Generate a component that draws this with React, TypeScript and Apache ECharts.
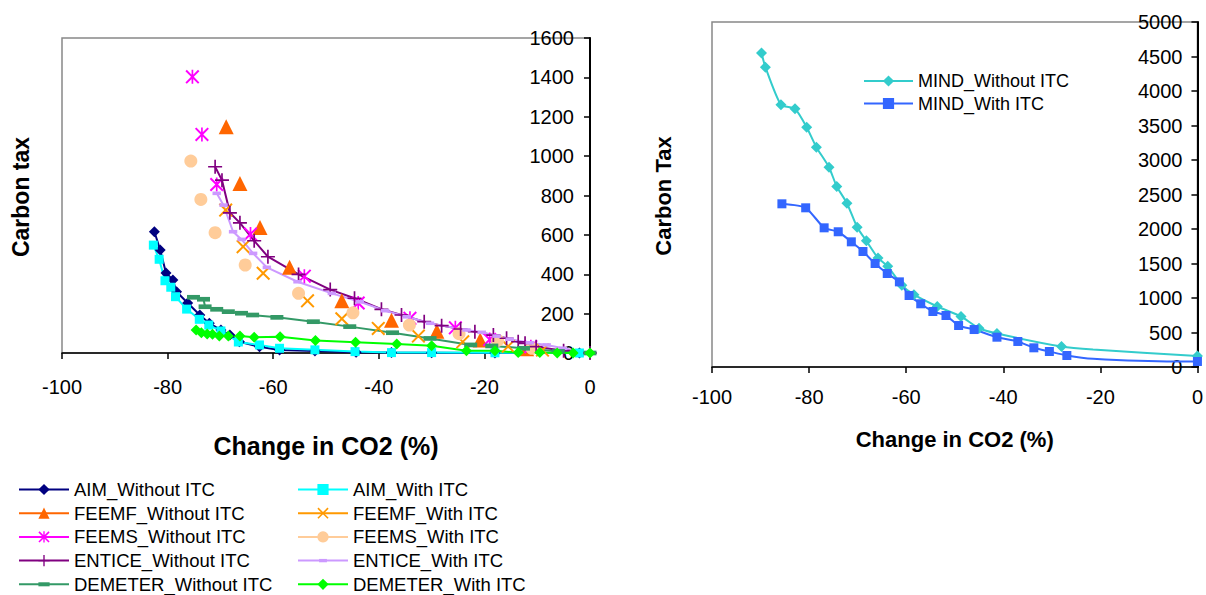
import React, { useEffect, useRef } from "react";
import * as echarts from "echarts";

// ---------- Data (x = change in CO2 %, y = carbon tax) ----------
const AIM_WITHOUT = [[-82.5,616],[-81.4,523],[-80.3,406],[-79.0,371],[-78.3,311],[-76.2,254],[-73.9,193],[-72.1,151],[-69.9,117],[-68.2,91],[-66.4,57],[-62.6,32],[-58.8,15],[-52.1,10],[-44.3,4],[-37.6,2],[-30,1],[-18,0],[-2,0]];
const AIM_WITH = [[-82.7,548],[-81.6,476],[-80.5,367],[-79.4,334],[-78.5,286],[-76.4,223],[-74.0,171],[-72.2,142],[-69.9,112],[-66.6,56],[-62.6,41],[-58.8,24],[-52.1,16],[-44.5,7],[-37.6,2],[-30,2],[-18,1],[-2,0]];
const FEEMF_WITHOUT = [[-68.9,1149],[-66.3,861],[-62.5,638],[-56.9,435],[-47.0,265],[-37.6,166],[-29.0,111],[-20.8,66],[-12,22]];
const FEEMF_WITH = [[-69.0,726],[-65.7,540],[-61.9,405],[-53.5,265],[-47.0,174],[-40.1,125],[-32.5,86],[-24.1,57],[-15.5,34],[-9,15]];
const FEEMS_WITHOUT = [[-75.3,1403],[-73.5,1110],[-70.7,856],[-64.3,604],[-54.1,390],[-43.9,254],[-34.1,176],[-25.5,128],[-19,68],[-11.2,32]];
const FEEMS_WITH = [[-75.6,975],[-73.7,780],[-71.0,611],[-65.3,447],[-55.2,303],[-44.9,204],[-34.2,142],[-24.8,98],[-17.5,64],[-11,24]];
const ENTICE_WITHOUT = [[-71.0,946],[-69.7,878],[-68.2,712],[-66.3,661],[-63.6,570],[-61.0,489],[-55.2,399],[-49.2,322],[-44.6,278],[-39.5,222],[-35.7,193],[-31.4,159],[-28.1,139],[-24.5,122],[-21.8,108],[-18.3,91],[-15.8,75],[-13.6,57],[-12.3,49],[-10.2,32],[-5,12],[0,0]];
const ENTICE_WITH = [[-70.7,811],[-69.4,751],[-67.6,616],[-66.0,577],[-63.8,506],[-61.2,435],[-55.4,362],[-48.9,303],[-43.6,260],[-38.8,215],[-34.7,184],[-30.3,151],[-23.4,117],[-20.5,105],[-17.7,86],[-15.2,70],[-11.4,52],[-8.2,41],[-5.1,24],[0,0]];
const DEMETER_WITHOUT = [[-75.1,283],[-73.2,273],[-72.9,235],[-70.7,222],[-68.5,210],[-66.0,202],[-63.9,193],[-59.3,181],[-52.4,159],[-45.5,134],[-37.4,103],[-30.3,74],[-22.6,41],[-18.6,36],[-12.6,24],[-6,8],[0,0]];
const DEMETER_WITH = [[-74.6,117],[-73.6,103],[-72.5,96],[-71.5,95],[-70.2,86],[-68.5,86],[-66.3,86],[-63.6,80],[-58.7,83],[-52.0,64],[-44.4,55],[-36.6,46],[-30.0,37],[-23.4,12],[-18,12],[-13.6,2],[-9.5,2],[-6.2,0],[-3.2,0],[0,0]];

const MIND_WITHOUT = [[-89.8,4550],[-89.0,4345],[-85.8,3800],[-82.9,3742],[-80.5,3475],[-78.5,3186],[-75.9,2896],[-74.3,2616],[-72.2,2374],[-70.1,2026],[-68.2,1828],[-65.8,1580],[-63.8,1459],[-60.9,1186],[-58.4,1048],[-53.6,877],[-48.7,732],[-45.0,562],[-41.3,485],[-28.0,297],[-21.5,253],[0,160]];
const MIND_WITHOUT_HIDDEN = [-21.5];
const MIND_WITH = [[-85.6,2365],[-80.7,2307],[-76.9,2017],[-74.0,1960],[-71.3,1814],[-68.9,1674],[-66.4,1500],[-63.9,1355],[-61.4,1234],[-59.4,1036],[-57.0,916],[-54.5,804],[-51.8,746],[-49.2,601],[-46.0,543],[-41.3,432],[-37.0,370],[-33.7,278],[-30.5,225],[-26.9,167],[-21.5,119],[-4.5,80],[0,80]];
const MIND_WITH_HIDDEN = [-21.5, -4.5];

const LEFT_Y_MAX = 1600;
const LEFT_Y_STEP = 200;
const RIGHT_Y_MAX = 5000;
const RIGHT_Y_STEP = 500;
const X_MIN = -100;
const X_MAX = 0;
const X_STEP = 20;

const FONT = "'Liberation Sans', Arial, sans-serif";

const SYM_X = "path://M0,1 L1,0 L5,4 L9,0 L10,1 L6,5 L10,9 L9,10 L5,6 L1,10 L0,9 L4,5 Z";
const SYM_STAR = "path://M0,1 L1,0 L5,4 L9,0 L10,1 L6,5 L10,9 L9,10 L5,6 L1,10 L0,9 L4,5 Z M4.4,0 L5.6,0 L5.6,10 L4.4,10 Z";
const SYM_PLUS = "path://M4.4,0 L5.6,0 L5.6,4.4 L10,4.4 L10,5.6 L5.6,5.6 L5.6,10 L4.4,10 L4.4,5.6 L0,5.6 L0,4.4 L4.4,4.4 Z";
const SYM_DASH = "path://M0,0 M10,10 M0,3.2 L10,3.2 L10,6.8 L0,6.8 Z";
const SYM_SMALL_DASH = "path://M0,0 M10,10 M1.5,3.5 L8.5,3.5 L8.5,6.5 L1.5,6.5 Z";

type Def = { name: string; data: number[][]; color: string; symbol: string; size: any; line: boolean };

const LEFT_DEFS: Def[] = [
  { name: "AIM_Without ITC", data: AIM_WITHOUT, color: "#000080", symbol: "diamond", size: 11, line: true },
  { name: "AIM_With ITC", data: AIM_WITH, color: "#00FFFF", symbol: "rect", size: 9, line: true },
  { name: "FEEMF_Without ITC", data: FEEMF_WITHOUT, color: "#FF6600", symbol: "triangle", size: 15, line: false },
  { name: "FEEMF_With ITC", data: FEEMF_WITH, color: "#FF9900", symbol: SYM_X, size: 14, line: false },
  { name: "FEEMS_Without ITC", data: FEEMS_WITHOUT, color: "#FF00FF", symbol: SYM_STAR, size: 14, line: false },
  { name: "FEEMS_With ITC", data: FEEMS_WITH, color: "#FFCC99", symbol: "circle", size: 13, line: false },
  { name: "ENTICE_Without ITC", data: ENTICE_WITHOUT, color: "#800080", symbol: SYM_PLUS, size: 14, line: true },
  { name: "ENTICE_With ITC", data: ENTICE_WITH, color: "#CC99FF", symbol: SYM_SMALL_DASH, size: 12, line: true },
  { name: "DEMETER_Without ITC", data: DEMETER_WITHOUT, color: "#339966", symbol: SYM_DASH, size: 13, line: true },
  { name: "DEMETER_With ITC", data: DEMETER_WITH, color: "#00FF00", symbol: "diamond", size: 11, line: true },
];

const RIGHT_DEFS = [
  { name: "MIND_Without ITC", data: MIND_WITHOUT, hidden: MIND_WITHOUT_HIDDEN, color: "#33CCCC", symbol: "diamond", size: 11 },
  { name: "MIND_With ITC", data: MIND_WITH, hidden: MIND_WITH_HIDDEN, color: "#3366FF", symbol: "rect", size: 9 },
];

export default function App() {
  const ref = useRef<HTMLDivElement>(null);
  useEffect(() => {
    document.body.style.margin = "0";
    const chart = echarts.init(ref.current!, null, { renderer: "svg" });

    const xAxisBase = (gridIndex: number, labelMargin: number, nameGap: number, nameSize: number) => ({
      type: "value",
      gridIndex,
      min: X_MIN,
      max: X_MAX,
      interval: X_STEP,
      name: "Change in CO2 (%)",
      nameLocation: "middle",
      nameGap,
      nameTextStyle: { fontFamily: FONT, fontWeight: "bold", fontSize: nameSize, color: "#000" },
      axisLine: { show: true, onZero: false, lineStyle: { color: "#000", width: 1.5 } },
      axisTick: { show: true, inside: false, length: 6, lineStyle: { color: "#000", width: 1.5 } },
      axisLabel: { fontFamily: FONT, fontSize: 20, color: "#000", margin: labelMargin },
      splitLine: { show: false },
    });

    const yAxisBase = (gridIndex: number, max: number, step: number, labelMargin: number) => ({
      type: "value",
      gridIndex,
      position: "right",
      min: 0,
      max,
      interval: step,
      axisLine: { show: true, lineStyle: { color: "#000", width: 2 } },
      axisTick: { show: true, inside: true, length: 6, lineStyle: { color: "#000", width: 1.5 } },
      axisLabel: { inside: true, fontFamily: FONT, fontSize: 20, color: "#000", margin: labelMargin, formatter: (v: number) => String(v) },
      splitLine: { show: false },
    });

    const leftSeries = LEFT_DEFS.map((d) => ({
      name: d.name,
      type: "line",
      xAxisIndex: 0,
      yAxisIndex: 0,
      data: d.data,
      symbol: d.symbol,
      symbolSize: d.size,
      showAllSymbol: true,
      itemStyle: { color: d.color },
      lineStyle: { color: d.color, width: 2, opacity: d.line ? 1 : 0 },
      emphasis: { disabled: true },
    }));

    const rightSeries = RIGHT_DEFS.map((d) => ({
      name: d.name,
      type: "line",
      xAxisIndex: 1,
      yAxisIndex: 1,
      smooth: 0.2,
      data: d.data.map((p) =>
        d.hidden.includes(p[0]) ? { value: p, symbol: "none" } : { value: p }
      ),
      symbol: d.symbol,
      symbolSize: d.size,
      showAllSymbol: true,
      itemStyle: { color: d.color },
      lineStyle: { color: d.color, width: 2 },
      emphasis: { disabled: true },
    }));

    const legendItem = (d: Def) => ({
      name: d.name,
      lineStyle: { color: d.color, width: 2, opacity: 1 },
    });

    const legendCommon = {
      orient: "vertical",
      itemWidth: 50,
      itemHeight: 14,
      itemGap: 4.7,
      padding: 0,
      selectedMode: false,
      textStyle: { fontFamily: FONT, fontSize: 18.5, color: "#000" },
    };

    chart.setOption({
      animation: false,
      backgroundColor: "#fff",
      grid: [
        { left: 62, top: 38, width: 528, height: 315, show: true, borderColor: "#888", borderWidth: 1.5, backgroundColor: "transparent" },
        { left: 712, top: 22, width: 490, height: 345, show: true, borderColor: "#888", borderWidth: 1.5, backgroundColor: "transparent" },
      ],
      xAxis: [xAxisBase(0, 24, 80, 25), xAxisBase(1, 20, 61, 22)],
      yAxis: [yAxisBase(0, LEFT_Y_MAX, LEFT_Y_STEP, 16), yAxisBase(1, RIGHT_Y_MAX, RIGHT_Y_STEP, 15)],
      legend: [
        { ...legendCommon, left: 18, top: 480, height: 160, width: 260, data: LEFT_DEFS.filter((_, i) => i % 2 === 0).map(legendItem) },
        { ...legendCommon, left: 297, top: 480, height: 160, width: 260, data: LEFT_DEFS.filter((_, i) => i % 2 === 1).map(legendItem) },
        { ...legendCommon, left: 863, top: 72, itemWidth: 49, itemGap: 4.5, textStyle: { fontFamily: FONT, fontSize: 18, color: "#000" }, data: RIGHT_DEFS.map((d) => d.name) },
      ],
      graphic: [
        { type: "text", x: 21, y: 197, rotation: Math.PI / 2, style: { text: "Carbon tax", font: `bold 23px ${FONT}`, fill: "#000", textAlign: "center", textVerticalAlign: "middle" } },
        { type: "text", x: 663, y: 196, rotation: Math.PI / 2, style: { text: "Carbon Tax", font: `bold 22px ${FONT}`, fill: "#000", textAlign: "center", textVerticalAlign: "middle" } },
      ],
      series: [...leftSeries, ...rightSeries],
    });

    return () => chart.dispose();
  }, []);
  return <div ref={ref} style={{ width: 1206, height: 595 }} />;
}
